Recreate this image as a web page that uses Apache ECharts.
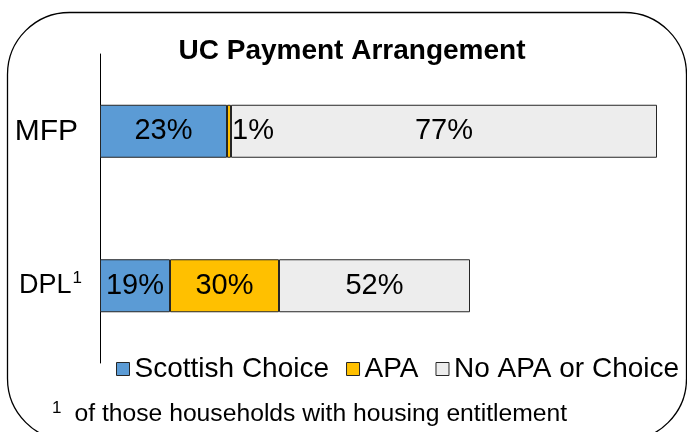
<!DOCTYPE html>
<html>
<head>
<meta charset="utf-8">
<script src="https://cdn.jsdelivr.net/npm/echarts@6/dist/echarts.min.js"></script>
<style>
  html, body { margin: 0; padding: 0; background: #fff; }
  #chart { width: 687px; height: 432px; }
</style>
</head>
<body>
<div id="chart"></div>
<script>
// categories top to bottom
const categories = ['MFP', 'DPL'];
const seriesNames = ['Scottish Choice', 'APA', 'No APA or Choice'];
// bar lengths (relative units)
const scottishChoice = [127, 70];
const apa = [4, 109];
const noApaOrChoice = [426, 191];
// printed labels
const scottishLabels = ['23%', '19%'];
const apaLabels = ['1%', '30%'];
const noApaLabels = ['77%', '52%'];

const colors = ['#5B9BD5', '#FFC000', '#EDEDED'];
const font = 'Liberation Sans, Arial, sans-serif';

function makeSeries(name, values, labels, color) {
  return {
    name: name,
    type: 'bar',
    stack: 'total',
    barWidth: 53,
    itemStyle: { color: color, borderColor: '#262626', borderWidth: 1 },
    label: {
      show: true,
      position: 'inside',
      color: '#000',
      fontFamily: font,
      fontSize: 29,
      formatter: p => labels[p.dataIndex]
    },
    data: values.map(v => {
      // the tiny 1% slice gets its label just to the right
      if (v < 10) return { value: v, label: { position: 'right', distance: 1 } };
      return v;
    })
  };
}

let myChart = echarts.init(document.getElementById('chart'));
myChart.setOption({
  animation: false,
  title: {
    text: 'UC Payment Arrangement',
    left: 347,
    top: 32,
    textAlign: 'center',
    textStyle: { fontFamily: font, fontSize: 28, fontWeight: 'bold', color: '#000' }
  },
  legend: {
    data: seriesNames,
    left: 111,
    top: 350,
    itemWidth: 13,
    itemHeight: 13,
    itemGap: 17,
    icon: 'rect',
    textStyle: { fontFamily: font, fontSize: 28, color: '#000', padding: [0, 0, 0, 0] },
    itemStyle: { borderColor: '#262626', borderWidth: 1 }
  },
  grid: { left: 100, top: 54, width: 560, bottom: 69 },
  xAxis: {
    type: 'value',
    min: 0,
    max: 560,
    show: false
  },
  yAxis: {
    type: 'category',
    data: categories,
    inverse: true,
    axisLine: { show: true, lineStyle: { color: '#000', width: 1 } },
    axisTick: { show: false },
    axisLabel: {
      margin: 18,
      color: '#000',
      formatter: v => v === 'DPL' ? '{a|DPL}{s|1}' : '{m|' + v + '}',
      rich: {
        m: { fontFamily: font, fontSize: 30, color: '#000', padding: [0, 4, 0, 0] },
        a: { fontFamily: font, fontSize: 27, color: '#000' },
        s: { fontFamily: font, fontSize: 17, color: '#000', verticalAlign: 'top', padding: [0, 0, 14, 1] }
      }
    }
  },
  series: [
    makeSeries(seriesNames[0], scottishChoice, scottishLabels, colors[0]),
    makeSeries(seriesNames[1], apa, apaLabels, colors[1]),
    makeSeries(seriesNames[2], noApaOrChoice, noApaLabels, colors[2])
  ],
  graphic: [
    {
      type: 'rect',
      shape: { x: 7.5, y: 12.5, width: 679, height: 428, r: 62 },
      style: { fill: 'none', stroke: '#000', lineWidth: 1.3 },
      z: -1
    },
    {
      type: 'text',
      left: 52,
      top: 400,
      style: {
        text: '{s|1}{a|of those households with housing entitlement}',
        rich: {
          a: { fontFamily: font, fontSize: 24.7, fill: '#000' },
          s: { fontFamily: font, fontSize: 17, fill: '#000', padding: [0, 13, 12, 0] }
        }
      }
    }
  ]
});
</script>
</body>
</html>
